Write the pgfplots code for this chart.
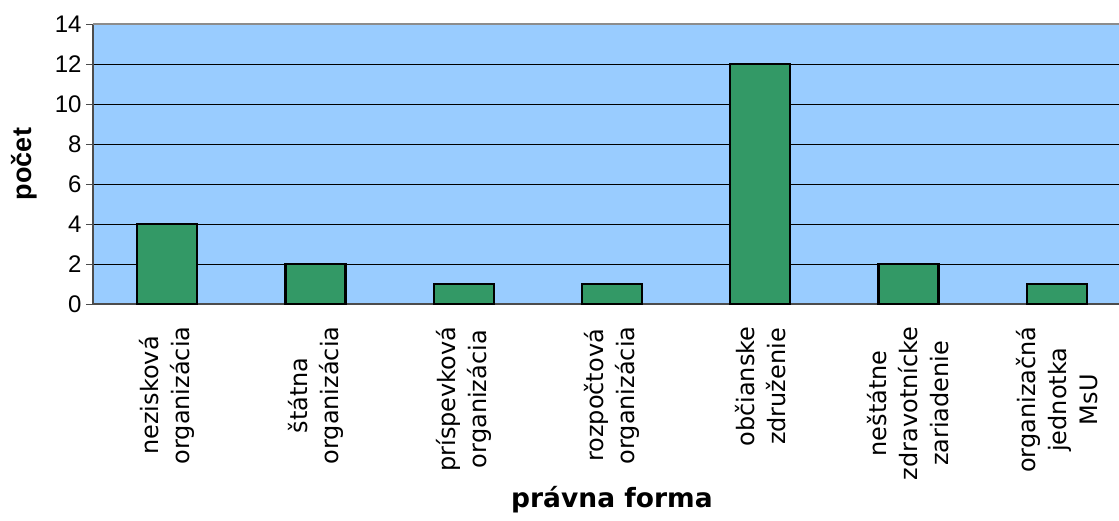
\documentclass[border=0pt]{standalone}
\usepackage{fontspec}
\setmainfont{Liberation Sans}
\newfontfamily\catfont{DejaVu Sans}
\usepackage{pgfplots}
\pgfplotsset{compat=1.18}

\definecolor{plotbg}{HTML}{99CCFF}
\definecolor{barfill}{HTML}{339966}

\begin{document}
\begin{tikzpicture}
\begin{axis}[
    name=ax,
    scale only axis,
    width=1026bp, height=280bp,
    xmin=-0.5, xmax=6.42,
    ymin=0, ymax=14,
    ytick={0,2,...,14},
    ymajorgrids,
    grid style={black, line width=0.9bp},
    axis background/.style={fill=plotbg},
    axis x line*=bottom,
    axis y line*=left,
    axis line style={black!70, line width=1.2bp},
    xtick={0,...,6},
    xticklabels={
        {nezisková\\organizácia},
        {štátna\\organizácia},
        {príspevková\\organizácia},
        {rozpočtová\\organizácia},
        {občianske\\združenie},
        {neštátne\\zdravotnícke\\zariadenie},
        {organizačná\\jednotka\\MsU}},
    major x tick style={draw=none},
    extra x ticks={-0.5,0.5,...,5.5},
    extra x tick labels={},
    extra x tick style={major tick length=15bp, tick align=center,
        tick style={black!70, line width=1bp}},
    major tick length=7bp,
    y tick style={black!70, line width=1bp},
    tick align=outside,
    /pgf/number format/assume math mode=true,
    yticklabel style={font=\fontsize{24bp}{28bp}\selectfont, xshift=-1bp},
    xticklabel style={font=\catfont\fontsize{24bp}{31bp}\selectfont,
        rotate=90, anchor=east, align=center, xshift=-12bp},
    ylabel={počet},
    ylabel style={font=\bfseries\fontsize{27bp}{30bp}\selectfont,
        at={(axis description cs:-0.0673,0.5)}, anchor=center},
    xlabel={právna forma},
    xlabel style={font=\catfont\bfseries\fontsize{26.5bp}{30bp}\selectfont,
        at={(axis cs:3,0)}, anchor=center, yshift=-196bp},
    clip=false,
]
\addplot[ybar, bar width=60bp, fill=barfill, draw=black, line width=2.2bp]
    coordinates {(0,4) (1,2) (2,1) (3,1) (4,12) (5,2) (6,1)};
\draw[black!45, line width=1.4bp] (rel axis cs:0,1) -- (rel axis cs:1,1);
\end{axis}
\pgfresetboundingbox
\path[use as bounding box] ([xshift=-93bp,yshift=-216bp]ax.south west)
    rectangle ([yshift=24bp]ax.north east);
\end{tikzpicture}
\end{document}
